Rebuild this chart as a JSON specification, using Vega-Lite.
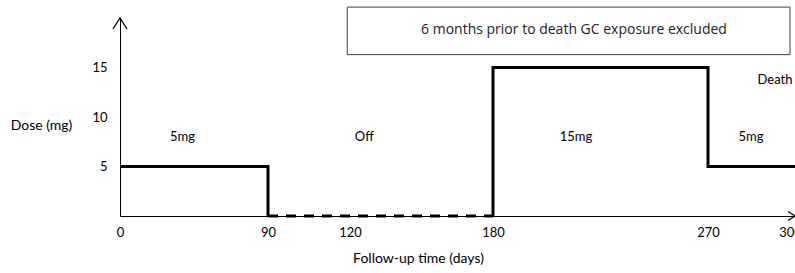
{
  "$schema": "https://vega.github.io/schema/vega-lite/v6.json",
  "width": 675,
  "height": 198,
  "autosize": {"type": "none"},
  "padding": {"left": 120, "top": 18, "right": 0, "bottom": 57},
  "background": "white",
  "config": {
    "view": {"stroke": null},
    "font": "Lato",
    "text": {"font": "Lato", "fontSize": 13, "color": "#000"}
  },
  "encoding": {
    "x": {
      "field": "t", "type": "quantitative",
      "scale": {"domain": [0, 90, 120, 180, 270, 300, 305], "range": [0, 148, 230, 373, 588, 670, 675], "nice": false, "zero": false},
      "axis": {
        "values": [0, 90, 120, 180, 270, 300], "ticks": false, "tickSize": 0, "grid": false,
        "domainColor": "#000", "domainWidth": 1, "labelPadding": 10, "labelFontSize": 13, "labelColor": "#000", "labelFont": "Lato",
        "labelFlush": false, "labelOverlap": false,
        "title": "Follow-up time (days)", "titleFont": "Lato", "titleFontSize": 14, "titleFontWeight": "normal", "titleColor": "#000",
        "titleX": 298, "titleY": 42, "titleAlign": "center", "titleBaseline": "middle"
      }
    },
    "y": {
      "field": "dose", "type": "quantitative",
      "scale": {"domain": [0, 20], "nice": false},
      "axis": {
        "values": [5, 10, 15], "ticks": false, "tickSize": 0, "grid": false,
        "domainColor": "#000", "domainWidth": 1, "labelPadding": 13, "labelFontSize": 13, "labelColor": "#000", "labelFont": "Lato",
        "title": "Dose (mg)", "titleFont": "Lato", "titleFontSize": 14, "titleFontWeight": "normal", "titleColor": "#000",
        "titleAngle": 0, "titleX": -79, "titleY": 107, "titleAlign": "center", "titleBaseline": "middle"
      }
    }
  },
  "layer": [
    {
      "data": {"values": [{"t": 119, "t2": 300, "dose": 16.3, "dose2": 21.1}]},
      "mark": {"type": "rect", "fill": "white", "stroke": "#404040", "strokeWidth": 1},
      "encoding": {"x2": {"field": "t2"}, "y2": {"field": "dose2"}}
    },
    {
      "data": {"values": [{"t": 213.9, "dose": 18.8, "label": "6 months prior to death GC exposure excluded"}]},
      "mark": {"type": "text", "align": "center", "baseline": "middle", "font": "Open Sans", "fontSize": 14, "color": "#222"},
      "encoding": {"text": {"field": "label"}}
    },
    {
      "data": {"values": [{"t": 90, "dose": 0}, {"t": 180, "dose": 0}]},
      "mark": {"type": "line", "color": "#000", "strokeWidth": 3, "strokeDash": [10, 8]},
      "encoding": {}
    },
    {
      "data": {"values": [
        {"seg": "a", "ord": 1, "t": 0, "dose": 5},
        {"seg": "a", "ord": 2, "t": 90, "dose": 5},
        {"seg": "a", "ord": 3, "t": 90, "dose": 0},
        {"seg": "b", "ord": 1, "t": 180, "dose": 0},
        {"seg": "b", "ord": 2, "t": 180, "dose": 15},
        {"seg": "b", "ord": 3, "t": 270, "dose": 15},
        {"seg": "b", "ord": 4, "t": 270, "dose": 5},
        {"seg": "b", "ord": 5, "t": 305, "dose": 5}
      ]},
      "mark": {"type": "line", "color": "#000", "strokeWidth": 3, "strokeJoin": "miter"},
      "encoding": {"detail": {"field": "seg"}, "order": {"field": "ord"}}
    },
    {
      "data": {"values": [
        {"t": 38, "dose": 8, "label": "5mg"},
        {"t": 126, "dose": 8, "label": "Off"},
        {"t": 214.7, "dose": 8, "label": "15mg"},
        {"t": 285.7, "dose": 8, "label": "5mg"},
        {"t": 294.5, "dose": 13.7, "label": "Death"}
      ]},
      "mark": {"type": "text", "align": "center", "baseline": "middle"},
      "encoding": {"text": {"field": "label"}}
    },
    {
      "data": {"values": [{"t": 0, "dose": 20}]},
      "mark": {"type": "point", "shape": "M-0.64,1L0,0L0.64,1", "size": 484, "filled": false, "stroke": "#000", "strokeWidth": 1.3, "opacity": 1},
      "encoding": {}
    },
    {
      "data": {"values": [{"t": 305, "dose": 0}]},
      "mark": {"type": "point", "shape": "M-1,-0.64L0,0L-1,0.64", "size": 196, "filled": false, "stroke": "#000", "strokeWidth": 1.3, "opacity": 1},
      "encoding": {}
    }
  ]
}
